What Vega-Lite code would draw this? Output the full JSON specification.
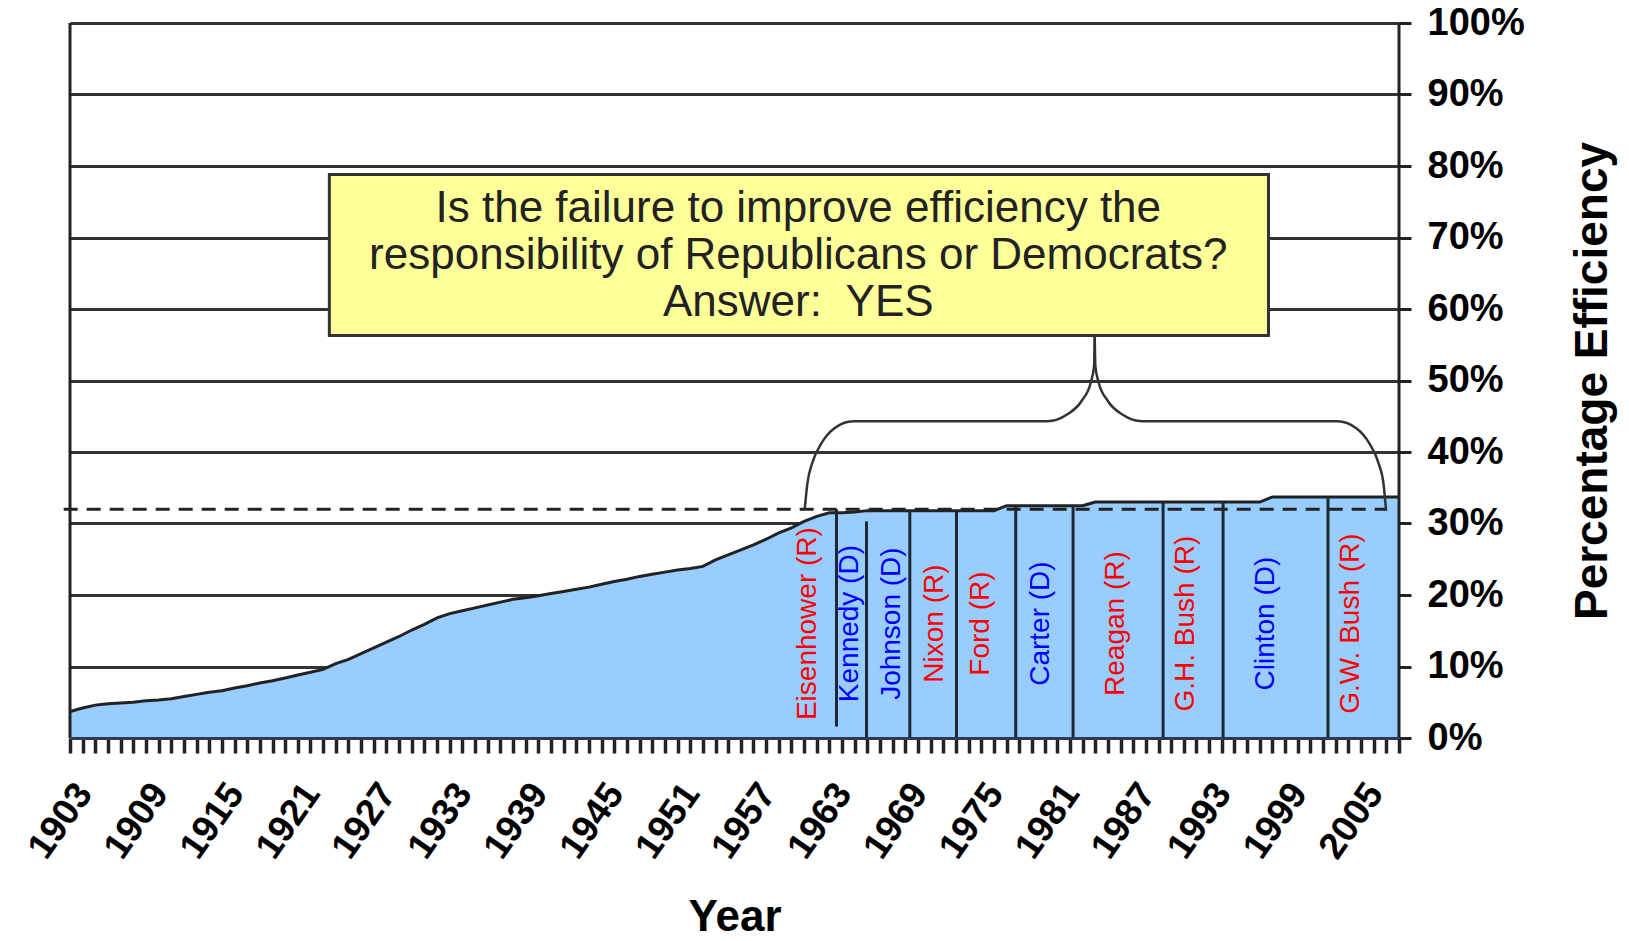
{
  "$schema": "https://vega.github.io/schema/vega-lite/v6.json",
  "width": 1329,
  "height": 715,
  "autosize": {"type": "none"},
  "padding": {"left": 70, "top": 23, "right": 230, "bottom": 203},
  "background": "white",
  "config": {"view": {"stroke": null}, "font": "Liberation Sans"},
  "datasets": {
    "eff": [
      {"year": 1903, "eff": 3.7}, {"year": 1904, "eff": 4.2}, {"year": 1905, "eff": 4.6}, {"year": 1906, "eff": 4.8},
      {"year": 1907, "eff": 4.9}, {"year": 1908, "eff": 5.0}, {"year": 1909, "eff": 5.2}, {"year": 1910, "eff": 5.3},
      {"year": 1911, "eff": 5.5}, {"year": 1912, "eff": 5.8}, {"year": 1913, "eff": 6.1}, {"year": 1914, "eff": 6.4},
      {"year": 1915, "eff": 6.6}, {"year": 1916, "eff": 7.0}, {"year": 1917, "eff": 7.3}, {"year": 1918, "eff": 7.7},
      {"year": 1919, "eff": 8.0}, {"year": 1920, "eff": 8.4}, {"year": 1921, "eff": 8.8}, {"year": 1922, "eff": 9.2},
      {"year": 1923, "eff": 9.6}, {"year": 1924, "eff": 10.4}, {"year": 1925, "eff": 11.0}, {"year": 1926, "eff": 11.8},
      {"year": 1927, "eff": 12.6}, {"year": 1928, "eff": 13.4}, {"year": 1929, "eff": 14.2}, {"year": 1930, "eff": 15.1},
      {"year": 1931, "eff": 15.9}, {"year": 1932, "eff": 16.8}, {"year": 1933, "eff": 17.4}, {"year": 1934, "eff": 17.8},
      {"year": 1935, "eff": 18.2}, {"year": 1936, "eff": 18.6}, {"year": 1937, "eff": 19.0}, {"year": 1938, "eff": 19.4},
      {"year": 1939, "eff": 19.6}, {"year": 1940, "eff": 19.9}, {"year": 1941, "eff": 20.2}, {"year": 1942, "eff": 20.5},
      {"year": 1943, "eff": 20.8}, {"year": 1944, "eff": 21.1}, {"year": 1945, "eff": 21.5}, {"year": 1946, "eff": 21.9},
      {"year": 1947, "eff": 22.2}, {"year": 1948, "eff": 22.6}, {"year": 1949, "eff": 22.9}, {"year": 1950, "eff": 23.2},
      {"year": 1951, "eff": 23.5}, {"year": 1952, "eff": 23.7}, {"year": 1953, "eff": 24.0}, {"year": 1954, "eff": 24.9},
      {"year": 1955, "eff": 25.6}, {"year": 1956, "eff": 26.3}, {"year": 1957, "eff": 27.0}, {"year": 1958, "eff": 27.8},
      {"year": 1959, "eff": 28.7}, {"year": 1960, "eff": 29.4}, {"year": 1961, "eff": 30.3}, {"year": 1962, "eff": 31.0},
      {"year": 1963, "eff": 31.5}, {"year": 1964, "eff": 31.5}, {"year": 1965, "eff": 31.6}, {"year": 1966, "eff": 31.8},
      {"year": 1967, "eff": 31.8}, {"year": 1968, "eff": 31.8}, {"year": 1969, "eff": 31.8}, {"year": 1970, "eff": 31.8},
      {"year": 1971, "eff": 31.8}, {"year": 1972, "eff": 31.8}, {"year": 1973, "eff": 31.8}, {"year": 1974, "eff": 31.8},
      {"year": 1975, "eff": 31.8}, {"year": 1976, "eff": 31.8}, {"year": 1977, "eff": 32.5}, {"year": 1978, "eff": 32.5},
      {"year": 1979, "eff": 32.5}, {"year": 1980, "eff": 32.5}, {"year": 1981, "eff": 32.5}, {"year": 1982, "eff": 32.5},
      {"year": 1983, "eff": 32.5}, {"year": 1984, "eff": 33.0}, {"year": 1985, "eff": 33.0}, {"year": 1986, "eff": 33.0},
      {"year": 1987, "eff": 33.0}, {"year": 1988, "eff": 33.0}, {"year": 1989, "eff": 33.0}, {"year": 1990, "eff": 33.0},
      {"year": 1991, "eff": 33.0}, {"year": 1992, "eff": 33.0}, {"year": 1993, "eff": 33.0}, {"year": 1994, "eff": 33.0},
      {"year": 1995, "eff": 33.0}, {"year": 1996, "eff": 33.0}, {"year": 1997, "eff": 33.0}, {"year": 1998, "eff": 33.7},
      {"year": 1999, "eff": 33.7}, {"year": 2000, "eff": 33.7}, {"year": 2001, "eff": 33.7}, {"year": 2002, "eff": 33.7},
      {"year": 2003, "eff": 33.7}, {"year": 2004, "eff": 33.7}, {"year": 2005, "eff": 33.7}, {"year": 2006, "eff": 33.7},
      {"year": 2007, "eff": 33.7}, {"year": 2008, "eff": 33.7}
    ],
    "separators": [
      {"yr": 1963.56, "lo": 1.6, "hi": 32.0},
      {"yr": 1965.93, "lo": 0, "hi": 30.3},
      {"yr": 1969.35, "lo": 0, "hi": 31.8},
      {"yr": 1973.04, "lo": 0, "hi": 31.8},
      {"yr": 1977.72, "lo": 0, "hi": 32.5},
      {"yr": 1982.25, "lo": 0, "hi": 32.5},
      {"yr": 1989.36, "lo": 0, "hi": 33.0},
      {"yr": 1994.10, "lo": 0, "hi": 33.0},
      {"yr": 2002.39, "lo": 0, "hi": 33.7}
    ],
    "presidents": [
      {"name": "Eisenhower (R)", "party": "R", "mid": 1961.29},
      {"name": "Kennedy (D)", "party": "D", "mid": 1964.61},
      {"name": "Johnson (D)", "party": "D", "mid": 1967.91},
      {"name": "Nixon (R)", "party": "R", "mid": 1971.33},
      {"name": "Ford (R)", "party": "R", "mid": 1975.01},
      {"name": "Carter (D)", "party": "D", "mid": 1979.75},
      {"name": "Reagan (R)", "party": "R", "mid": 1985.68},
      {"name": "G.H. Bush (R)", "party": "R", "mid": 1991.21},
      {"name": "Clinton (D)", "party": "D", "mid": 1997.53},
      {"name": "G.W. Bush (R)", "party": "R", "mid": 2004.24}
    ],
    "brace": [
      {"side": "L", "k": 0, "bx": 1961.05, "by": 32.0},
      {"side": "L", "k": 1, "bx": 1961.25, "by": 35.5},
      {"side": "L", "k": 2, "bx": 1961.65, "by": 38.5},
      {"side": "L", "k": 3, "bx": 1962.36, "by": 41.2},
      {"side": "L", "k": 4, "bx": 1963.37, "by": 43.3},
      {"side": "L", "k": 5, "bx": 1964.88, "by": 44.3},
      {"side": "L", "k": 6, "bx": 1980.23, "by": 44.3},
      {"side": "L", "k": 7, "bx": 1981.74, "by": 45.2},
      {"side": "L", "k": 8, "bx": 1982.95, "by": 47.2},
      {"side": "L", "k": 9, "bx": 1983.66, "by": 49.8},
      {"side": "L", "k": 10, "bx": 1983.91, "by": 52.0},
      {"side": "L", "k": 11, "bx": 1983.96, "by": 56.3},
      {"side": "R", "k": 0, "bx": 1983.96, "by": 56.3},
      {"side": "R", "k": 1, "bx": 1984.01, "by": 52.0},
      {"side": "R", "k": 2, "bx": 1984.26, "by": 49.8},
      {"side": "R", "k": 3, "bx": 1984.97, "by": 47.2},
      {"side": "R", "k": 4, "bx": 1986.18, "by": 45.2},
      {"side": "R", "k": 5, "bx": 1987.70, "by": 44.3},
      {"side": "R", "k": 6, "bx": 2003.14, "by": 44.3},
      {"side": "R", "k": 7, "bx": 2004.65, "by": 43.3},
      {"side": "R", "k": 8, "bx": 2005.66, "by": 41.2},
      {"side": "R", "k": 9, "bx": 2006.37, "by": 38.5},
      {"side": "R", "k": 10, "bx": 2006.78, "by": 35.5},
      {"side": "R", "k": 11, "bx": 2006.98, "by": 31.8}
    ],
    "edges": [{"edge": 1903}, {"edge": 2008}],
    "one": [{}]
  },
  "layer": [
    {
      "data": {"name": "eff"},
      "mark": {"type": "area", "color": "#99CCFF", "opacity": 1, "line": {"color": "#222222", "strokeWidth": 3}},
      "encoding": {
        "x": {
          "field": "year", "type": "quantitative", "title": "Year",
          "scale": {"domain": [1903, 2008], "nice": false, "zero": false},
          "axis": {
            "orient": "bottom",
            "values": [1903,1904,1905,1906,1907,1908,1909,1910,1911,1912,1913,1914,1915,1916,1917,1918,1919,1920,1921,1922,1923,1924,1925,1926,1927,1928,1929,1930,1931,1932,1933,1934,1935,1936,1937,1938,1939,1940,1941,1942,1943,1944,1945,1946,1947,1948,1949,1950,1951,1952,1953,1954,1955,1956,1957,1958,1959,1960,1961,1962,1963,1964,1965,1966,1967,1968,1969,1970,1971,1972,1973,1974,1975,1976,1977,1978,1979,1980,1981,1982,1983,1984,1985,1986,1987,1988,1989,1990,1991,1992,1993,1994,1995,1996,1997,1998,1999,2000,2001,2002,2003,2004,2005,2006,2007,2008],
            "tickCount": 500,
            "labelExpr": "(datum.value - 1903) % 6 === 0 ? '' + datum.value : ''",
            "labelAngle": -55, "labelAlign": "right", "labelBaseline": "middle",
            "labelFont": "Liberation Sans", "labelFontSize": 37, "labelFontWeight": "bold", "labelColor": "#000000",
            "labelPadding": 34, "labelOffset": 14, "labelOverlap": false, "labelFlush": false, "labelBound": false,
            "tickSize": 15, "tickWidth": 3.5, "tickColor": "#222222",
            "domain": true, "domainColor": "#2b3a55", "domainWidth": 3,
            "grid": false, "zindex": 1,
            "titleFont": "Liberation Sans", "titleFontSize": 44, "titleFontWeight": "bold", "titleColor": "#000000",
            "titleX": 664.5, "titleY": 192, "titleAlign": "center", "titleBaseline": "alphabetic"
          }
        },
        "y": {
          "field": "eff", "type": "quantitative", "title": "Percentage Efficiency",
          "scale": {"domain": [0, 100], "nice": false},
          "axis": {
            "orient": "right",
            "values": [0, 10, 20, 30, 40, 50, 60, 70, 80, 90, 100],
            "labelExpr": "datum.value + '%'",
            "labelFont": "Liberation Sans", "labelFontSize": 38, "labelFontWeight": "bold", "labelColor": "#000000",
            "labelAlign": "left", "labelBaseline": "middle", "labelPadding": 16, "labelFlush": false, "labelOverlap": false,
            "tickSize": 12, "tickWidth": 3, "tickColor": "#222222",
            "domain": false,
            "grid": true, "gridColor": "#333333", "gridWidth": 3, "zindex": 0,
            "titleFont": "Liberation Sans", "titleFontSize": 46, "titleFontWeight": "bold", "titleColor": "#000000",
            "titleAngle": 270, "titleX": 193, "titleY": 357.5, "titleAlign": "center", "titleBaseline": "middle"
          }
        }
      }
    },
    {
      "data": {"name": "separators"},
      "mark": {"type": "rule", "color": "#1c2833", "strokeWidth": 3},
      "encoding": {
        "x": {"field": "yr", "type": "quantitative", "title": "Year"},
        "y": {"field": "lo", "type": "quantitative", "title": "Percentage Efficiency"},
        "y2": {"field": "hi"}
      }
    },
    {
      "data": {"name": "presidents"},
      "mark": {"type": "text", "angle": 270, "align": "center", "baseline": "middle", "font": "Liberation Sans", "fontSize": 28},
      "encoding": {
        "x": {"field": "mid", "type": "quantitative", "title": "Year"},
        "y": {"datum": 16, "type": "quantitative"},
        "text": {"field": "name"},
        "color": {"field": "party", "type": "nominal", "scale": {"domain": ["R", "D"], "range": ["#FF0000", "#0000FF"]}, "legend": null}
      }
    },
    {
      "data": {"name": "one"},
      "mark": {"type": "rule", "color": "#222222", "strokeWidth": 3, "strokeDash": [14, 9]},
      "encoding": {
        "x": {"datum": 1902.5, "type": "quantitative"},
        "x2": {"datum": 2007},
        "y": {"datum": 32, "type": "quantitative"}
      }
    },
    {
      "data": {"name": "brace"},
      "mark": {"type": "line", "color": "#333333", "strokeWidth": 2.5, "interpolate": "monotone"},
      "encoding": {
        "x": {"field": "bx", "type": "quantitative", "title": "Year"},
        "y": {"field": "by", "type": "quantitative", "title": "Percentage Efficiency"},
        "detail": {"field": "side"},
        "order": {"field": "k", "type": "quantitative"}
      }
    },
    {
      "data": {"name": "one"},
      "mark": {"type": "rect", "fill": "#FFFF99", "stroke": "#333333", "strokeWidth": 3},
      "encoding": {
        "x": {"datum": 1923.49, "type": "quantitative"},
        "x2": {"datum": 1997.69},
        "y": {"datum": 56.3, "type": "quantitative"},
        "y2": {"datum": 78.8}
      }
    },
    {
      "data": {"name": "one"},
      "mark": {"type": "text", "align": "center", "baseline": "middle", "font": "Liberation Sans", "fontSize": 44, "lineHeight": 47, "color": "#222222",
        "text": ["Is the failure to improve efficiency the", "responsibility of Republicans or Democrats?", "Answer:\u00a0 YES"]},
      "encoding": {
        "x": {"datum": 1960.54, "type": "quantitative"},
        "y": {"datum": 74.0, "type": "quantitative"}
      }
    },
    {
      "data": {"name": "edges"},
      "mark": {"type": "rule", "color": "#222222", "strokeWidth": 3},
      "encoding": {
        "x": {"field": "edge", "type": "quantitative", "title": "Year"}
      }
    }
  ]
}
